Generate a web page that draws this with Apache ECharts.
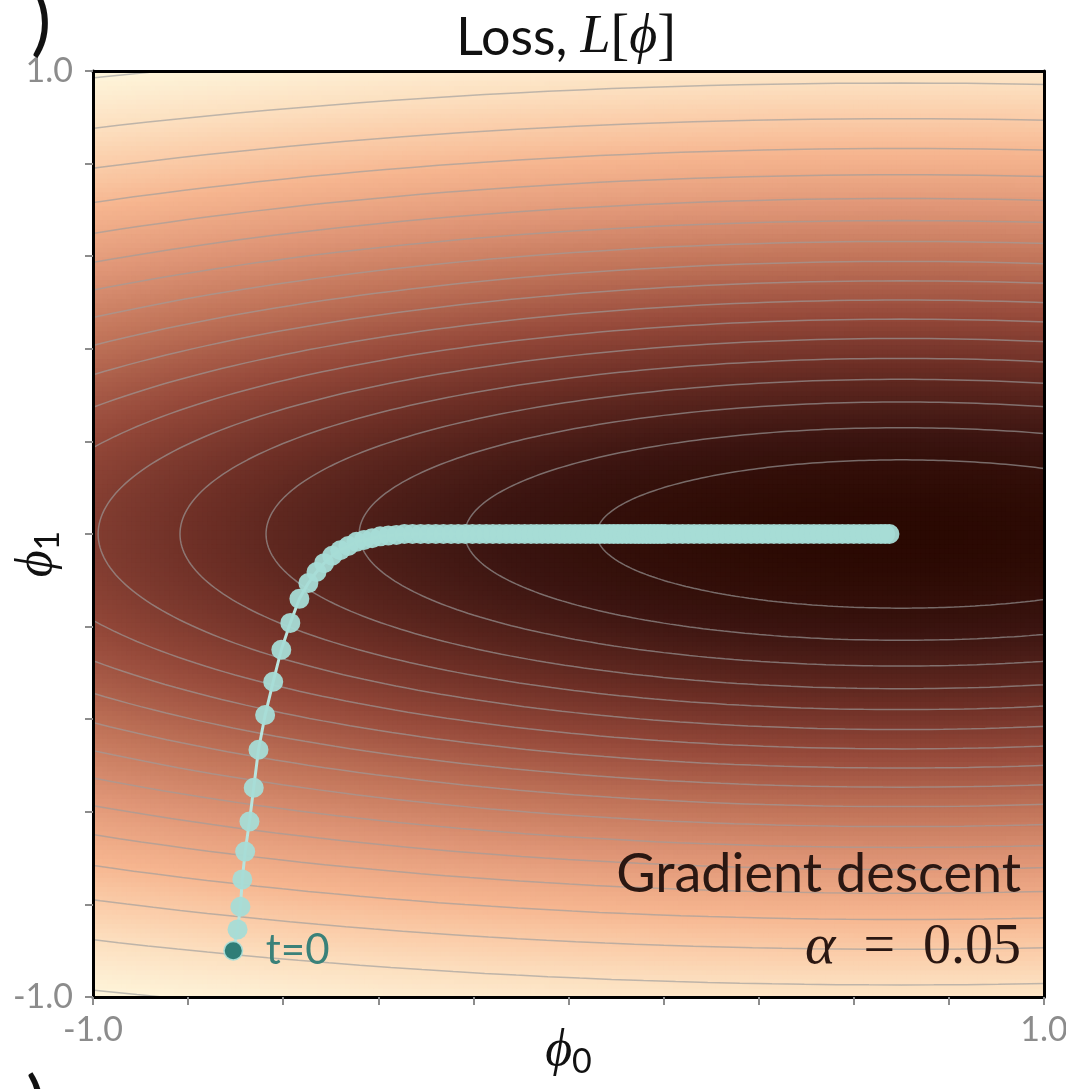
<!DOCTYPE html>
<html>
<head>
<meta charset="utf-8">
<script src="https://cdn.jsdelivr.net/npm/echarts@6/dist/echarts.min.js"></script>
<style>
  html, body { margin: 0; padding: 0; background: #ffffff; }
  #chart { width: 1066px; height: 1089px; }
</style>
</head>
<body>
<div id="chart"></div>
<script>
// ---- Axes -------------------------------------------------------------
const phi0Range = [-1.0, 1.0];
const phi1Range = [-1.0, 1.0];
const tickStep = 0.2;
const endTickLabels = ['-1.0', '1.0'];

// ---- Loss surface: L[phi] = 1 - exp(-0.5 * (p0*(phi0-c0)^2 + p1*(phi1-c1)^2))
const lossCenter = [0.7, 0.0];
const lossPrecision = [0.25, 4.0];
const contourLevels = [0.05, 0.10, 0.15, 0.20, 0.25, 0.30, 0.35, 0.40, 0.45, 0.50,
                       0.55, 0.60, 0.65, 0.70, 0.75, 0.80, 0.85, 0.90, 0.95];

// ---- Gradient descent iterates ----------------------------------------
// Climb out of the steep direction (phi1) ...
const descentPhi0 = [-0.705, -0.696, -0.690, -0.686, -0.680, -0.671, -0.662, -0.652, -0.638,
                     -0.621, -0.604, -0.585, -0.566, -0.547, -0.530, -0.514, -0.497, -0.480,
                     -0.463, -0.446, -0.430, -0.413, -0.396, -0.379, -0.362];
const descentPhi1 = [-0.900, -0.854, -0.805, -0.746, -0.686, -0.621, -0.548, -0.466, -0.391,
                     -0.319, -0.250, -0.192, -0.140, -0.106, -0.082, -0.063, -0.047, -0.035,
                     -0.026, -0.017, -0.013, -0.009, -0.005, -0.003, -0.002];
// ... then creep along the shallow valley floor (phi1 = 0)
const valleyPhi0 = [-0.345, -0.328, -0.311, -0.295, -0.279, -0.263, -0.247, -0.232, -0.217,
                    -0.202, -0.187, -0.173, -0.159, -0.145, -0.131, -0.118, -0.105, -0.092,
                    -0.079, -0.067, -0.055, -0.043, -0.031, -0.019, -0.008, 0.003, 0.014,
                    0.025, 0.036, 0.046, 0.056, 0.066, 0.076, 0.086, 0.095, 0.104, 0.113,
                    0.122, 0.131, 0.140, 0.148, 0.156, 0.164, 0.172, 0.180, 0.188, 0.196,
                    0.204, 0.216, 0.228, 0.240, 0.252, 0.264, 0.276, 0.288, 0.300, 0.312,
                    0.324, 0.336, 0.348, 0.360, 0.372, 0.384, 0.396, 0.408, 0.420, 0.432,
                    0.444, 0.456, 0.468, 0.480, 0.492, 0.504, 0.516, 0.528, 0.540, 0.552,
                    0.564, 0.576, 0.588, 0.600, 0.612, 0.624, 0.636, 0.647, 0.657, 0.666,
                    0.675];
const valleyPhi1 = 0.0;
const learningRate = '0.05';

// ---- Colour map (dark brown -> brick -> salmon -> cream) ----------------
const colorStops = [
  [0.00, '#2a0902'], [0.10, '#3c1511'], [0.25, '#692d24'], [0.40, '#95493a'],
  [0.55, '#bd7056'], [0.70, '#df9576'], [0.82, '#f6b58f'], [0.90, '#fbd0ad'],
  [1.00, '#fef5da']
];
function hexRgb(h) { return [1, 3, 5].map(i => parseInt(h.substr(i, 2), 16)); }
function sampleColor(t) {
  for (let k = 1; k < colorStops.length; k++) {
    const [t1, c1] = colorStops[k];
    if (t <= t1 || k === colorStops.length - 1) {
      const [t0, c0] = colorStops[k - 1];
      const f = Math.min(1, Math.max(0, (t - t0) / (t1 - t0)));
      const a = hexRgb(c0), b = hexRgb(c1);
      return 'rgb(' + a.map((v, i) => Math.round(v + (b[i] - v) * f)).join(',') + ')';
    }
  }
}
const palette = Array.from({ length: 96 }, (_, i) => sampleColor(i / 95));

// ---- Loss evaluation --------------------------------------------------
function loss(p0, p1) {
  const d0 = p0 - lossCenter[0], d1 = p1 - lossCenter[1];
  return 1 - Math.exp(-0.5 * (lossPrecision[0] * d0 * d0 + lossPrecision[1] * d1 * d1));
}

// Raster of loss values over the parameter range (cell centres)
const RES = 200;
const cellW = (phi0Range[1] - phi0Range[0]) / RES;
const cellH = (phi1Range[1] - phi1Range[0]) / RES;
const heatData = [];
let lossMin = Infinity, lossMax = -Infinity;
for (let j = 0; j < RES; j++) {
  const p1 = phi1Range[0] + (j + 0.5) * cellH;
  for (let i = 0; i < RES; i++) {
    const p0 = phi0Range[0] + (i + 0.5) * cellW;
    const v = loss(p0, p1);
    lossMin = Math.min(lossMin, v); lossMax = Math.max(lossMax, v);
    heatData.push([p0, p1, v]);
  }
}

// Iso-loss curves: ellipses around the minimum
function contour(level) {
  const k = -Math.log(1 - level);
  const a0 = Math.sqrt(2 * k / lossPrecision[0]);
  const a1 = Math.sqrt(2 * k / lossPrecision[1]);
  const pts = [];
  for (let d = 0; d <= 360; d += 1) {
    const th = d * Math.PI / 180;
    pts.push([lossCenter[0] + a0 * Math.cos(th), lossCenter[1] + a1 * Math.sin(th)]);
  }
  return pts;
}

const path = descentPhi0.map((p, i) => [p, descentPhi1[i]])
  .concat(valleyPhi0.map(p => [p, valleyPhi1]));

// ---- Chart --------------------------------------------------------------
const SANS = 'Lato, "Open Sans", sans-serif';
const SERIF = '"Liberation Serif", "DejaVu Serif", serif';
const TICK_GREY = '#8c8c8c';

function endLabel(v, range) {
  if (Math.abs(v - range[0]) < 1e-9) return endTickLabels[0];
  if (Math.abs(v - range[1]) < 1e-9) return endTickLabels[1];
  return '';
}

const frameAxis = {
  type: 'value', min: -1, max: 1, interval: tickStep, z: 10,
  axisLine: { show: true, onZero: false, lineStyle: { color: '#000', width: 3 } },
  axisTick: { show: false }, axisLabel: { show: false }, splitLine: { show: false }
};

const mathName = (pad) => ({
  padding: pad,
  rich: {
    phi: { fontFamily: SERIF, fontStyle: 'italic', fontSize: 52, color: '#111', lineHeight: 56 },
    sub: { fontFamily: SANS, fontSize: 34, color: '#111', lineHeight: 56, verticalAlign: 'bottom' }
  }
});

const option = {
  animation: false,
  backgroundColor: '#ffffff',
  grid: {
    left: 93, top: 71, right: 22, bottom: 92,
    containLabel: false, outerBoundsMode: 'none'
  },
  xAxis: [
    Object.assign({}, frameAxis, {
      position: 'bottom',
      min: phi0Range[0], max: phi0Range[1],
      axisTick: { show: true, inside: false, length: 8, lineStyle: { color: TICK_GREY, width: 2 } },
      axisLabel: {
        show: true, margin: 16, color: TICK_GREY, fontSize: 34, fontFamily: SANS,
        formatter: v => endLabel(v, phi0Range)
      },
      name: '{phi|ϕ}{sub|0}', nameLocation: 'middle', nameGap: 26, nameMoveOverlap: false,
      nameTextStyle: mathName(0)
    }),
    Object.assign({}, frameAxis, { position: 'top', min: phi0Range[0], max: phi0Range[1] })
  ],
  yAxis: [
    Object.assign({}, frameAxis, {
      position: 'left',
      min: phi1Range[0], max: phi1Range[1],
      axisTick: { show: true, inside: false, length: 8, lineStyle: { color: TICK_GREY, width: 2 } },
      axisLabel: {
        show: true, margin: 20, color: TICK_GREY, fontSize: 34, fontFamily: SANS,
        formatter: v => endLabel(v, phi1Range)
      },
      name: '{phi|ϕ}{sub|1}', nameLocation: 'middle', nameGap: 28, nameRotate: 90,
      nameMoveOverlap: false,
      nameTextStyle: mathName([0, 40, 0, 0])
    }),
    Object.assign({}, frameAxis, { position: 'right', min: phi1Range[0], max: phi1Range[1] })
  ],
  visualMap: {
    show: false, type: 'continuous', seriesIndex: 0, dimension: 2,
    min: lossMin, max: lossMax, inRange: { color: palette }
  },
  graphic: [
    {
      type: 'text', x: 566, y: 8, z: 20,
      style: {
        text: '{s|Loss, }{m|L}{b|[}{m|ϕ}{b|]}', align: 'center', verticalAlign: 'top',
        rich: {
          s: { fontFamily: SANS, fontSize: 52, fill: '#111', lineHeight: 60 },
          m: { fontFamily: SERIF, fontStyle: 'italic', fontSize: 54, fill: '#111', lineHeight: 60 },
          b: { fontFamily: SERIF, fontSize: 56, fill: '#111', lineHeight: 60 }
        }
      }
    },
    {
      type: 'text', x: 1021, y: 875, z: 20,
      style: { text: 'Gradient descent', align: 'right', verticalAlign: 'middle',
               fontFamily: SANS, fontSize: 54, fill: '#2a1712' }
    },
    {
      type: 'text', x: 1021, y: 948, z: 20,
      style: {
        text: '{a|α}{n|\u2002=\u2002' + learningRate + '}', align: 'right', verticalAlign: 'middle',
        rich: {
          a: { fontFamily: SERIF, fontStyle: 'italic', fontSize: 58, fill: '#2a1712' },
          n: { fontFamily: SERIF, fontSize: 56, fill: '#2a1712' }
        }
      }
    },
    {
      type: 'text', x: 31, y: -16, z: 20,
      style: { text: ')', fontFamily: SANS, fontSize: 76, fill: '#111' }
    },
    {
      type: 'text', x: 26, y: 1068, z: 20,
      style: { text: ')', fontFamily: SANS, fontSize: 76, fill: '#111' }
    }
  ],
  series: [
    {
      // loss raster: one slightly oversized rect per cell so neighbours overlap seamlessly
      type: 'custom', data: heatData, progressive: 0, silent: true, z: 1, clip: true,
      encode: { x: 0, y: 1 },
      renderItem: function (params, api) {
        const p0 = api.value(0), p1 = api.value(1);
        const tl = api.coord([p0 - cellW / 2, p1 + cellH / 2]);
        const br = api.coord([p0 + cellW / 2, p1 - cellH / 2]);
        return {
          type: 'rect',
          shape: { x: tl[0], y: tl[1], width: br[0] - tl[0] + 1, height: br[1] - tl[1] + 1 },
          style: { fill: api.visual('color') }
        };
      }
    }
  ].concat(contourLevels.map(level => ({
    type: 'line', data: contour(level),
    showSymbol: false, symbol: 'none', silent: true, clip: true, z: 3,
    lineStyle: { color: '#9c9c9c', opacity: 0.65, width: 1.5 }
  }))).concat([
    {
      type: 'line', data: path, z: 5, silent: true,
      symbol: 'circle', symbolSize: 20, showSymbol: true,
      itemStyle: { color: '#a7dcd6', opacity: 0.95 },
      lineStyle: { color: '#b9e4de', width: 3 }
    },
    {
      type: 'scatter', z: 6, silent: true,
      data: [[descentPhi0[0], descentPhi1[0]]],
      symbol: 'circle', symbolSize: 17,
      itemStyle: { color: '#2f7d77', opacity: 1 },
      label: {
        show: true, position: 'right', distance: 24, formatter: 't=0',
        fontFamily: SANS, fontSize: 42, color: '#3a8179'
      }
    }
  ])
};

const chart = echarts.init(document.getElementById('chart'), null, { renderer: 'canvas' });
chart.setOption(option);
</script>
</body>
</html>
